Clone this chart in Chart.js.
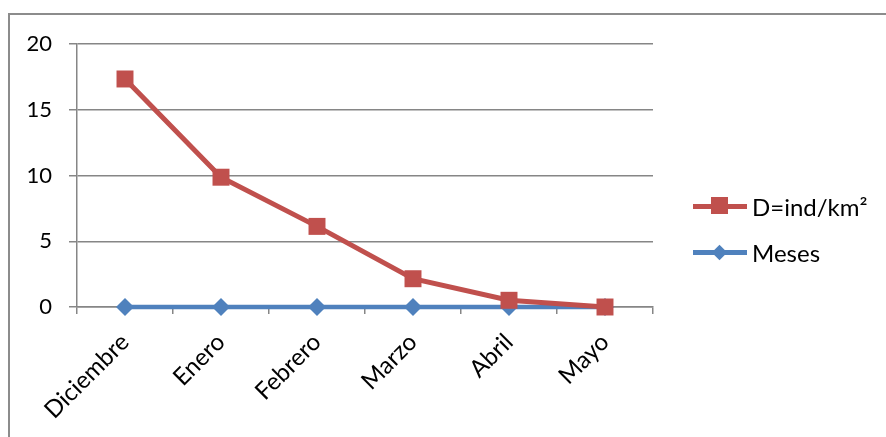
<!DOCTYPE html>
<html>
<head>
<meta charset="utf-8">
<script src="https://cdn.jsdelivr.net/npm/chart.js@4/dist/chart.umd.min.js"></script>
<style>
  html, body { margin: 0; padding: 0; background: #fff; }
  #wrap { position: relative; width: 886px; height: 437px; overflow: hidden; }
  #frame { position: absolute; left: 8px; top: 13px; width: 900px; height: 450px;
           border-left: 2px solid #8c8c8c; border-top: 2px solid #8c8c8c; }
  canvas { position: absolute; left: 0; top: 0; }
  #legend { position: absolute; left: 693px; top: 183px; font: 24px Lato, sans-serif; color: #000; }
  .item { display: flex; align-items: center; height: 46px; }
  .key { position: relative; width: 54px; height: 20px; margin-right: 5px; }
  .key .ln { position: absolute; left: 0; right: 0; top: 8px; height: 5px; }
  .key .mk { position: absolute; }
</style>
</head>
<body>
<div id="wrap">
  <div id="frame"></div>
  <canvas id="c" width="886" height="437"></canvas>
  <div id="legend"></div>
</div>
<script>
const months = ['Diciembre', 'Enero', 'Febrero', 'Marzo', 'Abril', 'Mayo'];
const density = [17.34, 9.87, 6.13, 2.15, 0.51, 0];
const meses = [0, 0, 0, 0, 0, 0];
const yTicks = [0, 5, 10, 15, 20];

const RED = '#C0504D', BLUE = '#4F81BD', GRID = '#868686';

new Chart(document.getElementById('c'), {
  type: 'line',
  data: {
    labels: months,
    datasets: [
      { label: 'D=ind/km²', data: density, borderColor: RED, backgroundColor: RED, borderWidth: 5,
        pointStyle: 'rect', pointRadius: 12, pointHoverRadius: 12, pointBorderWidth: 0, tension: 0, clip: false },
      { label: 'Meses', data: meses, borderColor: BLUE, backgroundColor: BLUE, borderWidth: 4.5,
        pointStyle: 'rectRot', pointRadius: 9, pointHoverRadius: 9, pointBorderWidth: 0, tension: 0, clip: false },
    ]
  },
  options: {
    responsive: false, animation: false,
    layout: { padding: { top: 44, right: 233, left: 0, bottom: 0 } },
    plugins: { legend: { display: false }, tooltip: { enabled: false } },
    scales: {
      x: {
        offset: true,
        grid: { offset: true, drawOnChartArea: false, color: GRID, lineWidth: 1.5, tickLength: 7 },
        border: { color: GRID, width: 1.5 },
        ticks: { color: '#000', font: { family: 'Lato, sans-serif', size: 24 }, maxRotation: 45, minRotation: 45, padding: 14 },
        afterFit: s => { s.height = 437 - 307; }
      },
      y: {
        min: 0, max: 20,
        afterBuildTicks: s => { s.ticks = yTicks.map(v => ({ value: v })); },
        grid: { color: GRID, lineWidth: 1.5, tickLength: 8 },
        border: { color: GRID, width: 1.5 },
        ticks: { color: '#000', font: { family: 'Lato, sans-serif', size: 22 }, padding: 17 },
        afterFit: s => { s.width = 77; }
      }
    }
  }
});

// legend: line with marker, then label
const legendItems = [
  { label: 'D=ind/km²', color: RED, shape: 'square' },
  { label: 'Meses', color: BLUE, shape: 'diamond' },
];
document.getElementById('legend').innerHTML = legendItems.map(it => {
  const mk = it.shape === 'square'
    ? `<span class="mk" style="left:18px;top:1px;width:17px;height:17px;background:${it.color}"></span>`
    : `<span class="mk" style="left:21px;top:5px;width:11px;height:11px;background:${it.color};transform:rotate(45deg)"></span>`;
  return `<div class="item"><span class="key"><span class="ln" style="background:${it.color}"></span>${mk}</span>${it.label}</div>`;
}).join('');
</script>
</body>
</html>
